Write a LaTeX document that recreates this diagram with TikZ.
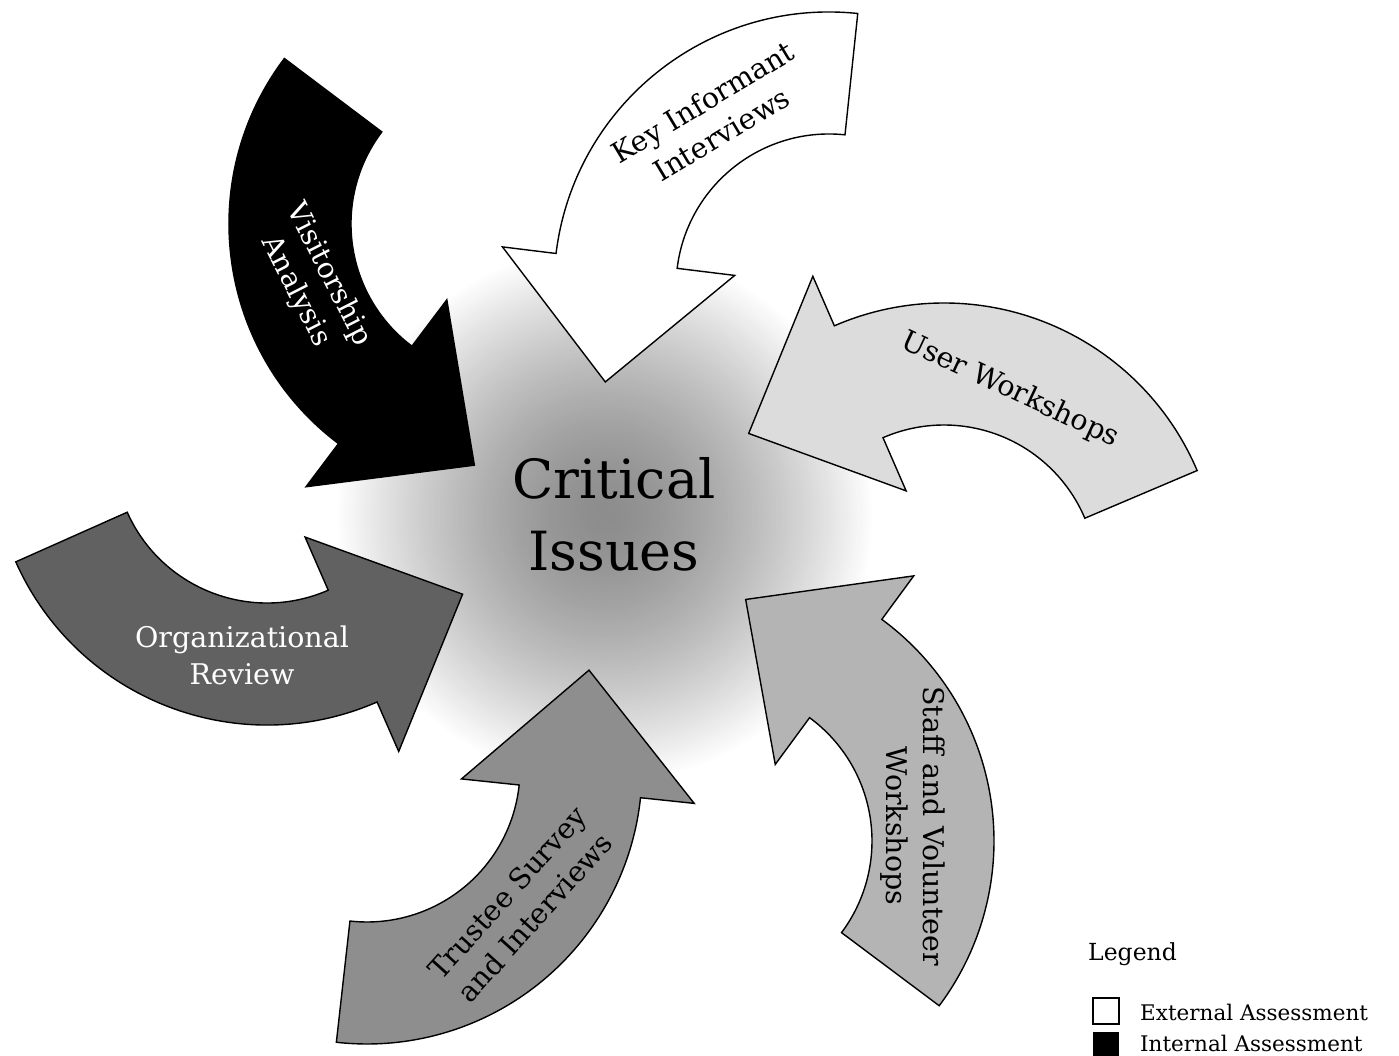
\documentclass[tikz,border=0pt]{standalone}
\usepackage{fontspec}
\setmainfont{DejaVu Serif}
\usetikzlibrary{calc}
\definecolor{cUser}{HTML}{DCDCDC}
\definecolor{cOrg}{HTML}{616161}
\definecolor{cTrust}{HTML}{8E8E8E}
\definecolor{cStaff}{HTML}{B4B4B4}
\newcommand\bentarrow[4]{%
  \draw[arrowline,#4] ($#1+(#2:275)$) arc[start angle=#2, end angle=#3, radius=275]
    -- ($#1+(#3:329)$) -- ($#1+({#3+30}:243)$) -- ($#1+(#3:95)$) -- ($#1+(#3:153)$)
    arc[start angle=#3, end angle=#2, radius=153] -- cycle;}
\begin{document}
\begin{tikzpicture}[x=1pt,y=1pt,
  arrowline/.style={draw=black,line width=1.4pt,line join=miter},
  arrowtext/.style={font=\fontsize{28.5}{37}\selectfont,align=center,inner sep=0pt},
  legendtext/.style={font=\fontsize{21.5}{26}\selectfont,anchor=base west,inner sep=0pt}]
\useasboundingbox (0,0) rectangle (1399,1055);
\fill[white] (0,0) rectangle (1399,1055);
% central glow
\foreach \i in {0,...,89}{%
  \pgfmathsetmacro\rr{270*(1-\i/90)}%
  \pgfmathsetmacro\vv{45*(1-(\rr/270)^1.5)}%
  \fill[black!\vv] (605,540) circle (\rr);}
% arrows
\bentarrow{(504,831)}{143}{233}{fill=black}
\bentarrow{(829,768)}{84}{173}{fill=white}
\bentarrow{(944,477)}{23}{113.5}{fill=cUser}
\bentarrow{(267,605)}{204}{293.6}{fill=cOrg}
\bentarrow{(367,286)}{263.6}{354}{fill=cTrust}
\bentarrow{(719,214)}{-36.8}{53.7}{fill=cStaff}
% labels
\node[arrowtext,text=white,rotate=-63] (vis) at (312,772) {Visitorship\\Analysis};
\node[arrowtext,rotate=31] (key) at (712,937) {Key Informant\\Interviews};
\node[arrowtext,rotate=-25] (user) at (1010,665) {User Workshops};
\node[arrowtext,text=white] (org) at (242,400) {Organizational\\Review};
\node[arrowtext,rotate=48] (trust) at (521,150) {Trustee Survey\\and Interviews};
\node[arrowtext,rotate=-90] (staff) at (913,229) {Staff and Volunteer\\Workshops};
\node[font=\fontsize{54}{72}\selectfont,align=center,inner sep=0pt] (crit) at (614,541) {Critical\\Issues};
% legend
\node[legendtext,font=\fontsize{23.5}{28}\selectfont] (leg) at (1088,95) {Legend};
\draw[line width=2pt,fill=white] (1093,57) rectangle (1119,31) node[coordinate] (extbox) {};
\fill[black] (1093,23) rectangle (1119,-3) node[coordinate] (intbox) {};
\node[legendtext] (ext) at (1140,35) {External Assessment};
\node[legendtext] (int) at (1140,4) {Internal Assessment};
\end{tikzpicture}
\end{document}
